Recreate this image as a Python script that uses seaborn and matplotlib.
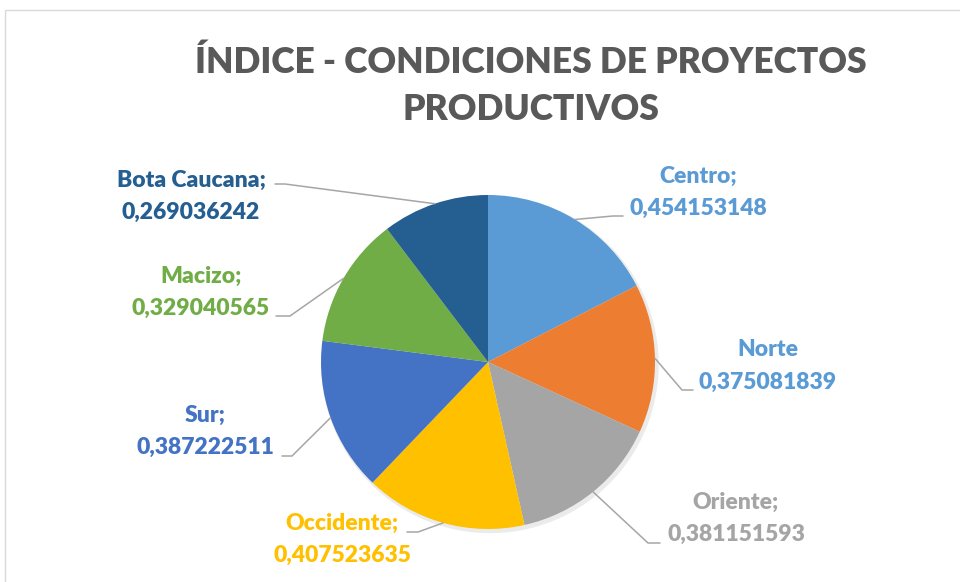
import matplotlib
matplotlib.use("Agg")
import numpy as np
import seaborn as sns
import matplotlib.pyplot as plt
from matplotlib.patches import Rectangle, Circle

# Data
regions = ["Centro", "Norte", "Oriente", "Occidente", "Sur", "Macizo", "Bota Caucana"]
label_names = ["Centro;", "Norte", "Oriente;", "Occidente;", "Sur;", "Macizo;", "Bota Caucana;"]
values = [0.454153148, 0.375081839, 0.381151593, 0.407523635, 0.387222511, 0.329040565, 0.269036242]
slice_colors = ["#5B9BD5", "#ED7D31", "#A5A5A5", "#FFC000", "#4472C4", "#70AD47", "#255E91"]
text_colors = ["#5B9BD5", "#5B9BD5", "#A5A5A5", "#FFC000", "#4472C4", "#70AD47", "#255E91"]

# label layout in pixels: text center, elbow of leader, end of leader
text_pos = [(698, 192), (768, 366), (736, 518), (342, 539), (205, 431), (201, 292), (191, 196)]
elbow_pos = [(613, 216), (682, 390), (648, 543), (418, 532), (292, 456), (290, 316), (285, 184)]
end_pos = [(623, 216), (693, 390), (660, 543), (407, 532), (282, 456), (276, 316), (275, 184)]

W, H = 960, 582
CX, CY, R = 488, 362, 167

sns.set_theme(style="white")
plt.rcParams['font.family'] = ['Lato', 'DejaVu Sans']

fig = plt.figure(figsize=(9.6, 5.82), dpi=100)
ax = fig.add_axes([0, 0, 1, 1])

def px(p):
    return ((p[0] - CX) / R, (CY - p[1]) / R)

# chart border (top and left visible)
fig.patches.append(Rectangle((5 / W, -0.1), 1.2, 1.1 - 10 / H, transform=fig.transFigure,
                             fill=False, edgecolor='#D9D9D9', linewidth=1.0))

# soft shadow
ax.add_patch(Circle((0.012, -0.015), 1.01, color='#000000', alpha=0.08, lw=0, zorder=0))

ax.pie(values, colors=slice_colors, startangle=90, counterclock=False, radius=1,
       wedgeprops=dict(linewidth=0))

ax.set_xlim(-CX / R, (W - CX) / R)
ax.set_ylim(-(H - CY) / R, CY / R)
ax.set_aspect('equal')
ax.axis('off')

total = sum(values)
cum = np.cumsum(values)
for i, v in enumerate(values):
    mid = np.deg2rad(90 - 360 * (cum[i] - v / 2) / total)
    edge = (np.cos(mid), np.sin(mid))
    e = px(elbow_pos[i])
    t = px(end_pos[i])
    ax.plot([edge[0], e[0], t[0]], [edge[1], e[1], t[1]], color='#A6A6A6', lw=1.1, zorder=1)
    cx, cy = px(text_pos[i])
    dy = 16 / R
    val = f"{v:.9f}".replace(".", ",")
    ax.text(cx, cy + dy, label_names[i], ha='center', va='center', fontsize=16.5,
            fontweight='heavy', color=text_colors[i])
    ax.text(cx, cy - dy, val, ha='center', va='center', fontsize=16.5,
            fontweight='heavy', color=text_colors[i])

fig.text(531 / W, 1 - 62 / H, "ÍNDICE - CONDICIONES DE PROYECTOS", ha='center', va='center',
         fontsize=25.5, fontweight='heavy', color='#595959')
fig.text(531 / W, 1 - 110 / H, "PRODUCTIVOS", ha='center', va='center',
         fontsize=25.5, fontweight='heavy', color='#595959')

fig.savefig("out.png", dpi=100)
